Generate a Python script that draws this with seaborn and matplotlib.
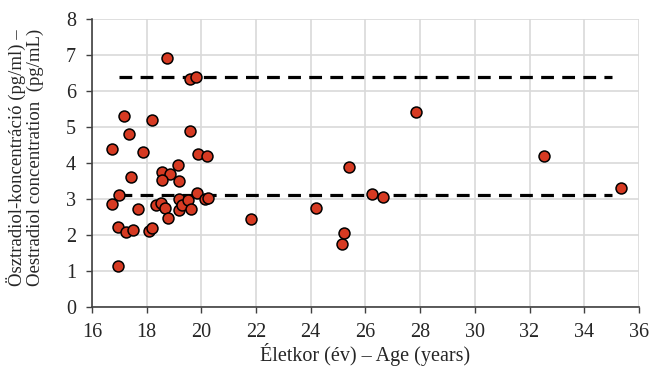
import seaborn as sns
import matplotlib.pyplot as plt
import pandas as pd

# Age (years) and oestradiol concentration (pg/mL)
age = [16.73, 17.17, 17.35, 17.88, 18.18, 18.75, 19.58, 19.80, 19.58, 19.89,
       20.19, 19.14, 17.43, 18.55, 18.86, 18.55, 19.19, 17.00, 16.73, 17.68,
       18.36, 18.51, 18.68, 18.78, 19.17, 19.20, 19.30, 19.52, 19.63, 19.84,
       20.13, 20.26, 16.94, 17.24, 17.50, 18.07, 18.18, 16.96, 21.80, 24.21,
       25.15, 25.23, 25.41, 26.23, 26.65, 27.86, 32.52, 35.33]
conc = [4.39, 5.31, 4.81, 4.31, 5.20, 6.91, 6.34, 6.40, 4.90, 4.24,
        4.19, 3.95, 3.60, 3.75, 3.70, 3.54, 3.49, 3.10, 2.86, 2.73,
        2.82, 2.89, 2.75, 2.46, 2.99, 2.70, 2.84, 2.97, 2.72, 3.16,
        3.01, 3.03, 2.22, 2.08, 2.14, 2.10, 2.20, 1.13, 2.44, 2.76,
        1.74, 2.06, 3.90, 3.15, 3.06, 5.41, 4.18, 3.31]

# reference lines
ref_x = [17, 35]
upper_ref = 6.4
lower_ref = 3.1

df = pd.DataFrame({"age": age, "conc": conc})

sns.set_style("whitegrid")
plt.rcParams["font.family"] = ["Liberation Serif", "DejaVu Serif"]

fig, ax = plt.subplots(figsize=(6.52, 3.70), dpi=100)
fig.subplots_adjust(left=0.141, right=0.980, top=0.949, bottom=0.170)

for yv in [upper_ref, lower_ref]:
    ax.plot(ref_x, [yv, yv], color="black", lw=2.3, dashes=(4, 2.6), zorder=2)

sns.scatterplot(data=df, x="age", y="conc", ax=ax, s=62, color="#d63a22",
                edgecolor="black", linewidth=1.1, zorder=3)

ax.set_xlim(16, 36)
ax.set_ylim(0, 8)
ax.set_xticks(range(16, 37, 2))
ax.set_yticks(range(0, 9))
ax.grid(True, color="#d9d9d9", lw=1.2)
ax.tick_params(axis="both", labelsize=14.5, direction="out", length=4.3,
               width=1, color="#404040", bottom=True, left=True)
ax.tick_params(axis="y", pad=7)
ax.tick_params(axis="x", pad=7)
for side in ["top", "right"]:
    ax.spines[side].set_visible(False)
for side in ["left", "bottom"]:
    ax.spines[side].set_color("#404040")
    ax.spines[side].set_linewidth(1.2)

ax.set_xlabel("Életkor (év) – Age (years)", fontsize=14.5, labelpad=1)
ax.set_ylabel("Ösztradiol-koncentráció (pg/ml) –\nOestradiol concentration  (pg/mL)",
              fontsize=13.5, linespacing=1.0)
ax.yaxis.set_label_coords(-0.088, 0.52)

fig.savefig("out.png", dpi=100)
